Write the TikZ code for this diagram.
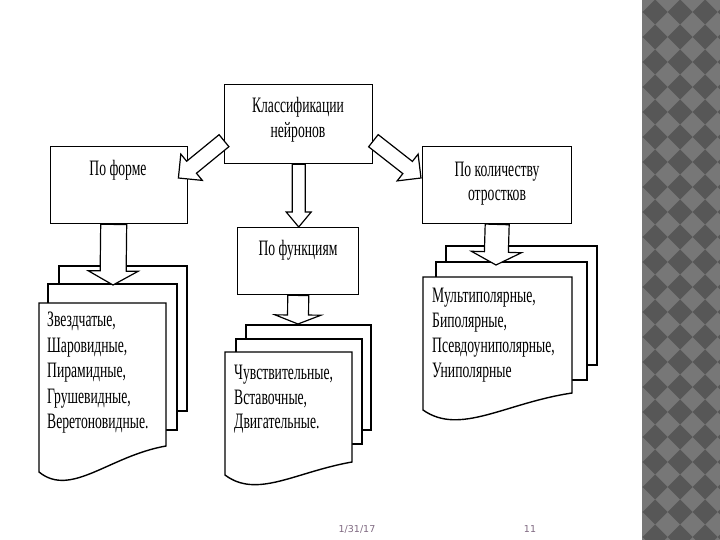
\documentclass[tikz,border=0pt]{standalone}
\usepackage{fontspec}
\setmainfont[FakeStretch=0.62]{Liberation Serif}
\newfontfamily\footfont{DejaVu Sans}
\usetikzlibrary{calc}
\definecolor{stripL}{HTML}{777777}
\definecolor{stripD}{HTML}{575757}
\definecolor{footc}{HTML}{806A82}
\tikzset{
  box/.style={draw, line width=1.4pt, fill=white, inner sep=0pt, anchor=north west},
  page/.style={draw, line width=1.4pt, fill=white, line join=miter},
  barrow/.style={draw, line width=1.2pt, fill=white, line join=miter},
  lbl/.style={font=\fontsize{22}{25.5}\selectfont, inner sep=0pt},
  foot/.style={font=\footfont\fontsize{9.5}{10}\selectfont, text=footc, inner sep=0pt}
}
\newcommand\blockarr[5]{%
  \coordinate (#1-#2-m) at ($(#2)!#5!(#1)$);
  \draw[barrow] ($(#1)!#3!90:(#2)$) -- ($(#1-#2-m)!#3!90:(#2)$) -- ($(#1-#2-m)!#4!90:(#2)$)
    -- (#2) -- ($(#1-#2-m)!#4!-90:(#2)$) -- ($(#1-#2-m)!#3!-90:(#2)$) -- ($(#1)!#3!-90:(#2)$) -- cycle;}
\begin{document}
\begin{tikzpicture}[x=1pt,y=-1pt]
\useasboundingbox (0,0) rectangle (720,540);
\fill[white] (0,0) rectangle (720,540);
% decorative strip
\begin{scope}
\clip (642,0) rectangle (720,540);
\fill[stripL] (642,0) rectangle (720,540);
\foreach \i in {-1,...,4} \foreach \j in {-1,...,22} {
  \fill[stripD] ({655+25*\i-12.5},{12+25*\j}) -- ++(12.5,12.5) -- ++(12.5,-12.5) -- ++(-12.5,-12.5) -- cycle;
}
\end{scope}
% main boxes
\node[box, minimum width=148pt, minimum height=79pt] (cls) at (224,84) {};
\node[lbl, align=center, anchor=north] (clsT) at (298,97) {Классификации\\нейронов};
\node[box, minimum width=137pt, minimum height=77pt] (forma) at (50,146) {};
\node[lbl, anchor=north] (formaT) at (118,160) {По форме};
\node[box, minimum width=149pt, minimum height=77pt] (cnt) at (422,146) {};
\node[lbl, align=center, anchor=north, font=\fontsize{22}{23.5}\selectfont] (cntT) at (497,162) {По количеству\\отростков};
\node[box, minimum width=121pt, minimum height=67pt] (fun) at (237,227) {};
\node[lbl, anchor=north] (funT) at (298,240) {По функциям};
% left stack
\draw[page] (59,266) rectangle (187,411);
\draw[page] (48,284) rectangle (177,430);
\draw[page] (39,303) -- (166,303) -- (166,446) .. controls (109,456) and (71,498) .. (39,472) -- cycle;
\coordinate (s1) at (113,285);
\node[lbl, align=left, anchor=north west] (s1T) at (47,312) {Звездчатые,\\Шаровидные,\\Пирамидные,\\Грушевидные,\\Веретоновидные.};
% middle stack
\draw[page] (246,325) rectangle (371,430);
\draw[page] (236,339) rectangle (362,444);
\draw[page] (225,352) -- (352,352) -- (352,462) .. controls (295,472) and (257,499) .. (225,475) -- cycle;
\coordinate (s2) at (298,324);
\node[lbl, align=left, anchor=north west, font=\fontsize{22}{24.5}\selectfont] (s2T) at (234,365) {Чувствительные,\\Вставочные,\\Двигательные.};
% right stack
\draw[page] (446,246) rectangle (597,365);
\draw[page] (436,262) rectangle (587,380);
\draw[page] (423,277) -- (572,277) -- (572,393) .. controls (505,403) and (460,436) .. (423,410) -- cycle;
\coordinate (s3) at (496,265);
\node[lbl, align=left, anchor=north west, font=\fontsize{22}{25}\selectfont] (s3T) at (432,287.5) {Мультиполярные,\\Биполярные,\\Псевдоуниполярные,\\Униполярные};
% block arrows
\coordinate (a1) at ([yshift=-16.5pt]cls.west);
\coordinate (f1) at ([xshift=-10pt,yshift=-32pt]forma.north east);
\blockarr{a1}{f1}{7.75pt}{17pt}{17pt}
\coordinate (a2) at ([yshift=-16.5pt]cls.east);
\coordinate (c1) at ([xshift=-1pt,yshift=-32pt]cnt.north west);
\blockarr{a2}{c1}{7.75pt}{17pt}{17pt}
\coordinate (a3) at (cls.south);
\coordinate (u1) at (cls.south |- fun.north);
\blockarr{a3}{u1}{6.5pt}{12.5pt}{15pt}
\coordinate (a4) at ([xshift=-5.5pt]forma.south);
\blockarr{a4}{s1}{13pt}{25pt}{14pt}
\coordinate (a5) at (fun.south);
\blockarr{a5}{s2}{10.5pt}{23pt}{9pt}
\coordinate (a6) at (cnt.south);
\blockarr{a6}{s3}{12pt}{25pt}{13pt}
% footer
\node[foot] (date) at (357,529) {1/31/17};
\node[foot] (pg) at (530,529) {11};
\end{tikzpicture}
\end{document}
